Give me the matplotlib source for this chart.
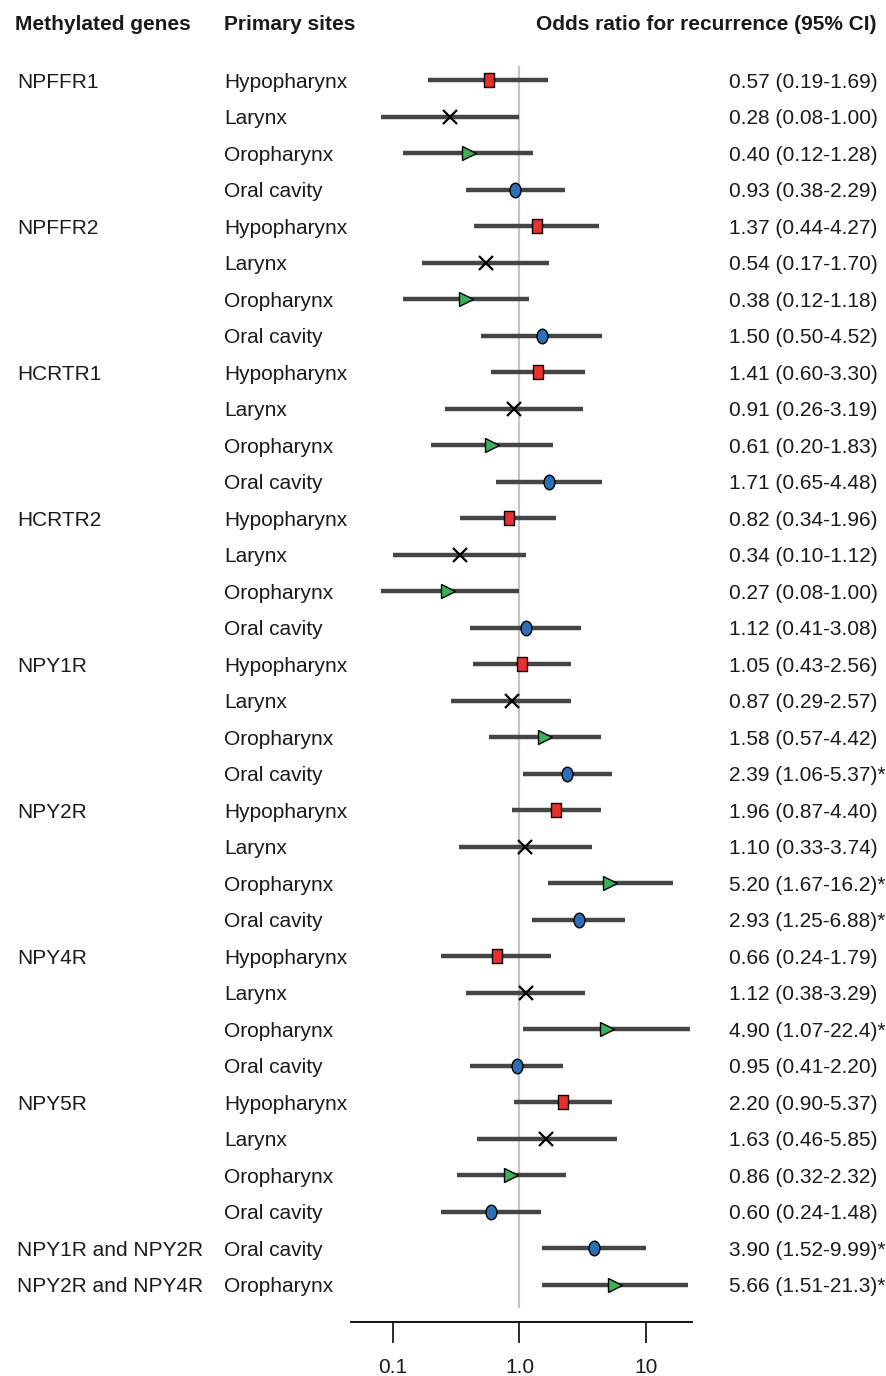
import numpy as np
import matplotlib
matplotlib.use("Agg")
import matplotlib.pyplot as plt
from matplotlib.path import Path
from matplotlib import transforms

plt.rcParams['font.family'] = ['Liberation Sans', 'DejaVu Sans']

genes = ['NPFFR1', 'NPFFR2', 'HCRTR1', 'HCRTR2', 'NPY1R', 'NPY2R', 'NPY4R', 'NPY5R',
         'NPY1R and NPY2R', 'NPY2R and NPY4R']
four_sites = ['Hypopharynx', 'Larynx', 'Oropharynx', 'Oral cavity']
sites = four_sites * 8 + ['Oral cavity', 'Oropharynx']

odds = [0.57, 0.28, 0.40, 0.93,
        1.37, 0.54, 0.38, 1.50,
        1.41, 0.91, 0.61, 1.71,
        0.82, 0.34, 0.27, 1.12,
        1.05, 0.87, 1.58, 2.39,
        1.96, 1.10, 5.20, 2.93,
        0.66, 1.12, 4.90, 0.95,
        2.20, 1.63, 0.86, 0.60,
        3.90, 5.66]
lower = [0.19, 0.08, 0.12, 0.38,
         0.44, 0.17, 0.12, 0.50,
         0.60, 0.26, 0.20, 0.65,
         0.34, 0.10, 0.08, 0.41,
         0.43, 0.29, 0.57, 1.06,
         0.87, 0.33, 1.67, 1.25,
         0.24, 0.38, 1.07, 0.41,
         0.90, 0.46, 0.32, 0.24,
         1.52, 1.51]
upper = [1.69, 1.00, 1.28, 2.29,
         4.27, 1.70, 1.18, 4.52,
         3.30, 3.19, 1.83, 4.48,
         1.96, 1.12, 1.00, 3.08,
         2.56, 2.57, 4.42, 5.37,
         4.40, 3.74, 16.2, 6.88,
         1.79, 3.29, 22.4, 2.20,
         5.37, 5.85, 2.32, 1.48,
         9.99, 21.3]
signif = [False] * 19 + [True] + [False, False, True, True] + [False, False, True, False] + [False] * 4 + [True, True]

# marker shapes (taller than wide, like the original)
sq = Path([(-0.72, -1), (0.72, -1), (0.72, 1), (-0.72, 1), (-0.72, -1)], closed=True)
circ = Path.unit_circle()
ell = Path(circ.vertices * np.array([0.75, 1.0]), circ.codes)
styles = {
    'Hypopharynx': dict(marker=sq, color='#e8302c', ms=10.5),
    'Larynx': dict(marker='x', color='black', ms=9.5),
    'Oropharynx': dict(marker='>', color='#3bb05a', ms=10),
    'Oral cavity': dict(marker=ell, color='#2b6fb6', ms=10.5),
}

W, H = 887, 1376
fig = plt.figure(figsize=(W / 100, H / 100), dpi=100)
ax_left, ax_right = 351 / W, 692 / W
ax_bottom = 1 - 1322 / H
ax_top = 1 - 60 / H
ax = fig.add_axes([ax_left, ax_bottom, ax_right - ax_left, ax_top - ax_bottom])

n = len(odds)
y = np.arange(n)
row_px = (1285 - 80) / (n - 1)
ax.set_ylim(n - 1 + (1322 - 1285) / row_px, -(80 - 60) / row_px)
ax.set_xscale('log')
ax.set_xlim(0.0466, 23.1)

ax.plot([1, 1], [-0.36, n - 1 + 0.6], color='#c4c4c4', lw=1.6, zorder=1)

for i in range(n):
    ax.plot([lower[i], upper[i]], [y[i], y[i]], color='#454545', lw=3.2,
            solid_capstyle='butt', zorder=2)
    st = styles[sites[i]]
    if st['marker'] == 'x':
        ax.plot(odds[i], y[i], marker='x', color='black', ms=st['ms'], mew=1.6, zorder=3)
    else:
        ax.plot(odds[i], y[i], marker=st['marker'], ms=st['ms'], mfc=st['color'],
                mec='black', mew=1.0, linestyle='', zorder=3)

for s in ['top', 'right', 'left']:
    ax.spines[s].set_visible(False)
ax.spines['bottom'].set_linewidth(1.3)
ax.set_yticks([])
ax.set_xticks([0.1, 1, 10])
ax.set_xticklabels(['0.1', '1.0', '10'])
ax.xaxis.set_minor_locator(matplotlib.ticker.NullLocator())
ax.tick_params(axis='x', direction='out', length=15, width=1.3, labelsize=15, pad=11,
               colors='#1a1a1a')

tr = transforms.blended_transform_factory(fig.transFigure, ax.transData)
fs = 15
tc = '#1a1a1a'

fig.text(15 / W, 1 - 22 / H, 'Methylated genes', fontsize=fs, fontweight='bold',
         va='center_baseline', color=tc)
fig.text(224 / W, 1 - 22 / H, 'Primary sites', fontsize=fs, fontweight='bold',
         va='center_baseline', color=tc)
fig.text(877 / W, 1 - 22 / H, 'Odds ratio for recurrence (95% CI)', fontsize=fs,
         fontweight='bold', va='center_baseline', ha='right', color=tc)

gene_rows = [0, 4, 8, 12, 16, 20, 24, 28, 32, 33]
for g, r in zip(genes, gene_rows):
    ax.text(17 / W, r, g, transform=tr, fontsize=fs, va='center_baseline',
            clip_on=False, color=tc)


def fmt(v):
    return f'{v:.2f}' if v < 10 else f'{v:.1f}'


for i in range(n):
    ax.text(224 / W, y[i], sites[i], transform=tr, fontsize=fs, va='center_baseline',
            clip_on=False, color=tc)
    lab = f'{fmt(odds[i])} ({fmt(lower[i])}-{fmt(upper[i])})' + ('*' if signif[i] else '')
    ax.text(729 / W, y[i], lab, transform=tr, fontsize=fs, va='center_baseline',
            clip_on=False, color=tc)

fig.savefig('out.png', dpi=100)
